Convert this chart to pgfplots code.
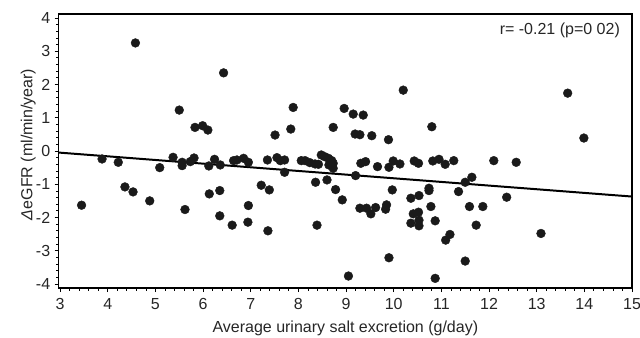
\documentclass[border=0pt]{standalone}
\usepackage{fontspec}
\setmainfont{Liberation Sans}
\usepackage{pgfplots}
\pgfplotsset{compat=1.18}
\usetikzlibrary{calc}
\definecolor{dot}{HTML}{1A1A1A}
\newcommand{\fs}{\fontsize{16bp}{19bp}\selectfont}
\begin{document}
\begin{tikzpicture}
\begin{axis}[
  scale only axis,
  width=573.3bp, height=274bp,
  xmin=2.97, xmax=15, ymin=-4.12, ymax=4.12,
  xtick={3,4,...,15}, ytick={-4,-3,...,4},
  minor x tick num=4, minor y tick num=4,
  tick align=outside, xtick pos=bottom, ytick pos=left,
  major tick length=4bp, minor tick length=2.5bp,
  every tick/.style={black, line width=0.8pt},
  axis line style={black, line width=1.1pt},
  /pgf/number format/assume math mode=true,
  tick label style={font=\fs, text=black!85},
  xticklabel style={yshift=-3bp},
  yticklabel style={xshift=-1bp},
  xlabel={Average urinary salt excretion (g/day)},
  ylabel={\textit{Δ}eGFR (ml/min/year)},
  xlabel style={font=\fs, text=black!85, at={(axis description cs:0.5,-0.164)}, anchor=base},
  ylabel style={font=\fs, text=black!85, at={(axis description cs:-0.0457,0.524)}, anchor=base, rotate=0},
  clip=false,
]
\addplot[only marks, mark=*, mark size=4.4bp, dot, mark options={draw=dot, fill=dot}] coordinates {
(4.58,3.25) (6.43,2.35) (5.50,1.23) (5.83,0.71) (5.99,0.76) (6.10,0.63)
(7.51,0.48) (7.89,1.31) (7.84,0.66) (8.73,0.71) (8.96,1.28) (9.15,1.11)
(9.36,1.08) (9.19,0.51) (9.29,0.49) (9.54,0.46) (9.89,0.34) (10.20,1.83)
(10.80,0.73) (13.65,1.74) (13.99,0.39)
(3.88,-0.24) (4.22,-0.34) (5.09,-0.50) (5.37,-0.19) (5.56,-0.34) (5.56,-0.44)
(5.73,-0.32) (5.81,-0.21) (6.12,-0.45) (4.36,-1.08) (4.53,-1.23) (3.45,-1.63)
(4.88,-1.50) (5.62,-1.76) (6.13,-1.29) (6.24,-0.25) (6.36,-0.42) (6.64,-0.29)
(6.71,-0.27) (6.85,-0.22) (6.95,-0.34) (7.35,-0.27) (7.55,-0.20) (7.62,-0.29)
(7.71,-0.27) (7.71,-0.64) (8.06,-0.29) (8.14,-0.29) (8.24,-0.35) (8.35,-0.39)
(8.42,-0.40) (8.48,-0.12) (8.55,-0.17) (8.63,-0.22) (8.70,-0.29) (8.73,-0.37)
(8.64,-0.42) (8.73,-0.52) (6.35,-1.19) (7.22,-1.03) (7.39,-1.17) (8.36,-0.94)
(8.60,-0.87) (8.78,-1.16) (8.92,-1.47) (6.35,-1.95) (6.95,-1.64) (6.61,-2.23)
(6.94,-2.14) (7.36,-2.40) (8.39,-2.23) (9.05,-3.76) (9.20,-0.74) (9.31,-0.37)
(9.41,-0.32) (9.66,-0.47) (9.90,-0.49) (9.99,-0.30) (10.13,-0.39) (10.43,-0.30)
(10.52,-0.37) (10.82,-0.30) (10.95,-0.25) (11.08,-0.40) (11.26,-0.29) (12.10,-0.29)
(9.97,-1.17) (10.36,-1.42) (10.53,-1.34) (10.74,-1.12) (10.74,-1.19) (11.36,-1.22)
(11.50,-0.94) (11.64,-0.79) (9.29,-1.72) (9.43,-1.72) (9.62,-1.70) (9.52,-1.89)
(9.83,-1.75) (9.85,-1.62) (10.78,-1.67) (11.59,-1.67) (11.87,-1.67) (10.41,-1.89)
(10.52,-1.84) (10.36,-2.17) (10.53,-2.08) (10.53,-2.25) (10.87,-2.10) (11.73,-2.23)
(11.18,-2.51) (11.09,-2.68) (9.90,-3.21) (11.50,-3.31) (10.87,-3.83)
(12.57,-0.34) (12.37,-1.39) (13.09,-2.48)
};
\addplot[black, line width=2pt] coordinates {(2.97,-0.047) (15,-1.37)};
\node[font=\fs, text=black!85, anchor=east] at (axis description cs:0.985,0.942) {r= -0.21 (p=0 02)};
\end{axis}
\pgfresetboundingbox
\path[use as bounding box] ($(current axis.south west)+(-58.7bp,-50bp)$) rectangle ($(current axis.north east)+(8bp,14bp)$);
\end{tikzpicture}
\end{document}
